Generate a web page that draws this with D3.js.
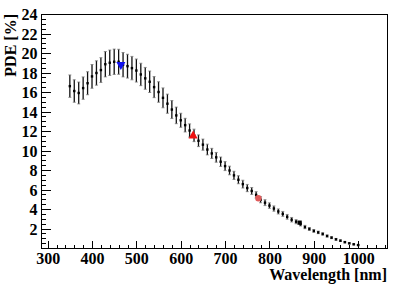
<!DOCTYPE html>
<html>
<head>
<meta charset="utf-8">
<script src="https://cdn.jsdelivr.net/npm/d3@7"></script>
<style>
  body { margin: 0; background: #fff; }
</style>
</head>
<body>
<svg id="chart" width="407" height="286"></svg>
<script>
// measured points, 10 nm steps
var wavelength = [350, 360, 370, 380, 390, 400, 410, 420, 430, 440, 450, 460, 470, 480, 490,
  500, 510, 520, 530, 540, 550, 560, 570, 580, 590, 600, 610, 620, 630, 640, 650, 660, 670,
  680, 690, 700, 710, 720, 730, 740, 750, 760, 770, 780, 790, 800, 810, 820, 830, 840, 850,
  860, 870, 880, 890, 900, 910, 920, 930, 940, 950, 960, 970, 980, 990, 1000];
var pde = [16.6, 16.1, 15.9, 16.4, 16.9, 17.6, 17.95, 18.25, 18.85, 19.0, 19.1, 19.1, 18.8, 18.65, 18.45,
  18.2, 17.8, 17.4, 17.05, 16.5, 16.0, 15.4, 14.8, 14.2, 13.6, 13.1, 12.6, 12.05, 11.55, 11.0, 10.6, 10.1, 9.7,
  9.3, 8.85, 8.4, 7.95, 7.45, 7.0, 6.55, 6.15, 5.85, 5.45, 4.95, 4.65, 4.35, 4.05, 3.75, 3.5, 3.2, 2.9,
  2.7, 2.45, 2.15, 1.95, 1.75, 1.6, 1.44, 1.23, 1.06, 0.89, 0.75, 0.6, 0.48, 0.38, 0.3];
var pdeErr = [1.15, 1.15, 1.12, 1.15, 1.18, 1.22, 1.25, 1.27, 1.3, 1.3, 1.3, 1.28, 1.25, 1.22, 1.2,
  1.18, 1.15, 1.12, 1.1, 1.08, 1.05, 1.02, 0.98, 0.92, 0.85, 0.72, 0.7, 0.68, 0.64, 0.6, 0.57, 0.55, 0.52,
  0.5, 0.48, 0.46, 0.44, 0.42, 0.41, 0.4, 0.37, 0.35, 0.33, 0.31, 0.3, 0.28, 0.27, 0.26, 0.25, 0.24, 0.23,
  0.21, 0.19, 0.17, 0.15, 0.14, 0.13, 0.12, 0.11, 0.1, 0.09, 0.08, 0.07, 0.06, 0.05, 0.05];

// reference points (laser lines)
var refWavelength = [465, 628, 775, 868];
var refPde = [18.8, 11.5, 5.1, 2.6];

var xTicks = [300, 400, 500, 600, 700, 800, 900, 1000];
var yTicks = [2, 4, 6, 8, 10, 12, 14, 16, 18, 20, 22, 24];

(function drawChart() {
  var font = "'Liberation Serif', 'Times New Roman', Times, serif",
    fontSize = 16;
  var svg = d3.select("#chart"),
    margin = { top: 14, right: 20, bottom: 38, left: 41 },
    width = 407 - margin.left - margin.right,
    height = 286 - margin.top - margin.bottom,
    g = svg.append("g").attr("transform", "translate(" + margin.left + "," + margin.top + ")");

  var xScale = d3.scaleLinear().domain([285, 1065]).range([0, width]),
    yScale = d3.scaleLinear().domain([0, 24]).range([height, 0]);

  // frame
  g.append("rect")
    .attr("x", 0).attr("y", 0)
    .attr("width", width).attr("height", height)
    .attr("fill", "none").attr("stroke", "#000").attr("stroke-width", 1)
    .attr("shape-rendering", "crispEdges");

  // x axis: major + minor ticks
  var xMinor = d3.range(300, 1065, 20);
  g.append("g")
    .attr("transform", "translate(0," + height + ")")
    .call(d3.axisBottom(xScale).tickValues(xMinor).tickSizeInner(-3.5).tickSizeOuter(0).tickFormat(""))
    .call(function (a) { a.select(".domain").remove(); });
  var xAxis = g.append("g")
    .attr("class", "axis axis--x")
    .attr("transform", "translate(0," + height + ")")
    .call(d3.axisBottom(xScale).tickValues(xTicks).tickSizeInner(-7).tickSizeOuter(0).tickPadding(4.5).tickFormat(d3.format("d")));
  xAxis.select(".domain").remove();
  xAxis.attr("font-family", font).attr("font-weight", "bold").attr("font-size", fontSize);
  xAxis.selectAll("text").attr("fill", "#000");

  // y axis
  var yMinor = d3.range(0.5, 24, 0.5);
  g.append("g")
    .call(d3.axisLeft(yScale).tickValues(yMinor).tickSizeInner(-5).tickSizeOuter(0).tickFormat(""))
    .call(function (a) { a.select(".domain").remove(); });
  var yAxis = g.append("g")
    .attr("class", "axis axis--y")
    .call(d3.axisLeft(yScale).tickValues(yTicks).tickSizeInner(-9.5).tickSizeOuter(0).tickPadding(3.5));
  yAxis.select(".domain").remove();
  yAxis.attr("font-family", font).attr("font-weight", "bold").attr("font-size", fontSize);
  yAxis.selectAll("text").attr("fill", "#000").attr("dy", "0.35em");

  g.selectAll(".tick line").attr("stroke", "#000").attr("shape-rendering", "crispEdges");

  var data = wavelength.map(function (w, i) {
    return { w: w, v: pde[i], e: pdeErr[i] };
  });

  // error bars
  g.selectAll(".err")
    .data(data)
    .enter().append("line")
    .attr("class", "err")
    .attr("x1", function (d) { return xScale(d.w); })
    .attr("x2", function (d) { return xScale(d.w); })
    .attr("y1", function (d) { return yScale(d.v + d.e); })
    .attr("y2", function (d) { return yScale(d.v - d.e); })
    .attr("stroke", "#111")
    .attr("stroke-width", 1.3);

  g.selectAll(".cap")
    .data(data.concat(data.map(function (d) { return { w: d.w, v: d.v, e: -d.e }; })))
    .enter().append("line")
    .attr("class", "cap")
    .attr("x1", function (d) { return xScale(d.w) - 1.5; })
    .attr("x2", function (d) { return xScale(d.w) + 1.5; })
    .attr("y1", function (d) { return yScale(d.v + d.e); })
    .attr("y2", function (d) { return yScale(d.v + d.e); })
    .attr("stroke", "#777")
    .attr("stroke-width", 0.8);

  // points
  g.selectAll(".pt")
    .data(data)
    .enter().append("rect")
    .attr("class", "pt")
    .attr("x", function (d) { return xScale(d.w) - 1.2; })
    .attr("y", function (d) { return yScale(d.v) - 1.2; })
    .attr("width", 2.4)
    .attr("height", 2.4)
    .attr("fill", "#000");

  // reference markers
  var refStyle = [
    { type: d3.symbolTriangle, rot: 180, color: "#1010ee", size: 36 },
    { type: d3.symbolTriangle, rot: 0, color: "#ee1010", size: 36 },
    { type: d3.symbolCircle, rot: 0, color: "#e05a5a", size: 32 },
    { type: d3.symbolSquare, rot: 0, color: "#000", size: 18 }
  ];
  g.selectAll(".ref")
    .data(refWavelength)
    .enter().append("path")
    .attr("class", "ref")
    .attr("d", function (d, i) { return d3.symbol().type(refStyle[i].type).size(refStyle[i].size)(); })
    .attr("transform", function (d, i) {
      return "translate(" + xScale(d) + "," + yScale(refPde[i]) + ") rotate(" + refStyle[i].rot + ")";
    })
    .attr("fill", function (d, i) { return refStyle[i].color; });

  // axis titles
  svg.append("text")
    .attr("font-family", font)
    .attr("font-weight", "bold")
    .attr("text-anchor", "end")
    .attr("font-size", fontSize)
    .attr("x", margin.left + width)
    .attr("y", 280)
    .text("Wavelength [nm]");

  svg.append("text")
    .attr("font-family", font)
    .attr("font-weight", "bold")
    .attr("text-anchor", "end")
    .attr("font-size", fontSize)
    .attr("transform", "translate(16," + margin.top + ") rotate(-90)")
    .text("PDE [%]");
})();
</script>
</body>
</html>
